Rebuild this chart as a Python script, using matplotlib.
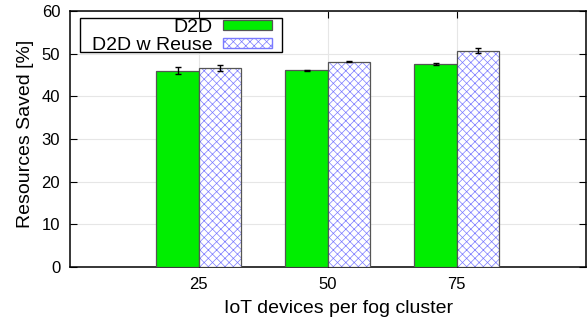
import numpy as np
import matplotlib.pyplot as plt
from matplotlib.patches import Rectangle

plt.rcParams['font.family'] = ['Liberation Sans', 'DejaVu Sans']
plt.rcParams['hatch.linewidth'] = 0.5

devices = ['25', '50', '75']
d2d = [46.0, 46.1, 47.6]
d2d_err = [0.8, 0.1, 0.3]
reuse = [46.7, 48.1, 50.7]
reuse_err = [0.7, 0.15, 0.65]

x = np.arange(1, len(devices) + 1)
w = 0.33
hatch_blue = '#7a7aff'

fig = plt.figure(figsize=(5.87, 3.21), dpi=100)
ax = fig.add_axes([0.119, 0.168, 0.879, 0.798])

ax.bar(x - w / 2, d2d, w, color='#00ee00', edgecolor='#555555', linewidth=0.9,
       label='D2D', zorder=3)
# hatched fill in blue, then a grey outline on top
ax.bar(x + w / 2, reuse, w, color='white', edgecolor=hatch_blue, hatch='xxxx',
       linewidth=0, zorder=3)
ax.bar(x + w / 2, reuse, w, fill=False, edgecolor='#555555', linewidth=0.9, zorder=4)
ax.bar([0], [0], 0, color='white', edgecolor=hatch_blue, hatch='xxxx',
       label='D2D w Reuse')

ax.errorbar(x - w / 2, d2d, yerr=d2d_err, fmt='none', ecolor='black',
            elinewidth=1, capsize=2.5, capthick=1, zorder=5)
ax.errorbar(x + w / 2, reuse, yerr=reuse_err, fmt='none', ecolor='black',
            elinewidth=1, capsize=2.5, capthick=1, zorder=5)

ax.set_xlim(0, 4)
ax.set_ylim(0, 60)
ax.set_xticks(x)
ax.set_xticklabels(devices)
ax.set_yticks(range(0, 61, 10))
ax.tick_params(direction='in', top=True, right=True, labelsize=12, length=5,
               pad=7)
ax.grid(True, color='#e6e6e6', linewidth=0.8, zorder=0)
ax.set_axisbelow(True)
for s in ax.spines.values():
    s.set_linewidth(1.1)

ax.set_xlabel('IoT devices per fog cluster', fontsize=14)
ax.set_ylabel('Resources Saved [%]', fontsize=14)
ax.xaxis.set_label_coords(0.521, -0.128)
ax.yaxis.set_label_coords(-0.070, 0.52)

# legend box drawn separately so the padding can differ horizontally/vertically
ax.add_patch(Rectangle((0.0194, 0.840), 0.391, 0.133, transform=ax.transAxes,
                       facecolor='white', edgecolor='black', linewidth=1.0,
                       zorder=6))
h, l = ax.get_legend_handles_labels()
leg = ax.legend(h, l, loc='upper right', bbox_to_anchor=(0.391, 0.968),
                markerfirst=False, frameon=False, fontsize=14,
                handlelength=2.5, handleheight=0.45, borderpad=0,
                labelspacing=0.05, handletextpad=0.55, borderaxespad=0)
leg.set_zorder(7)
for t in leg.get_texts():
    t.set_ha('right')
leg._legend_box.align = 'right'

fig.savefig('out.png', dpi=100)
